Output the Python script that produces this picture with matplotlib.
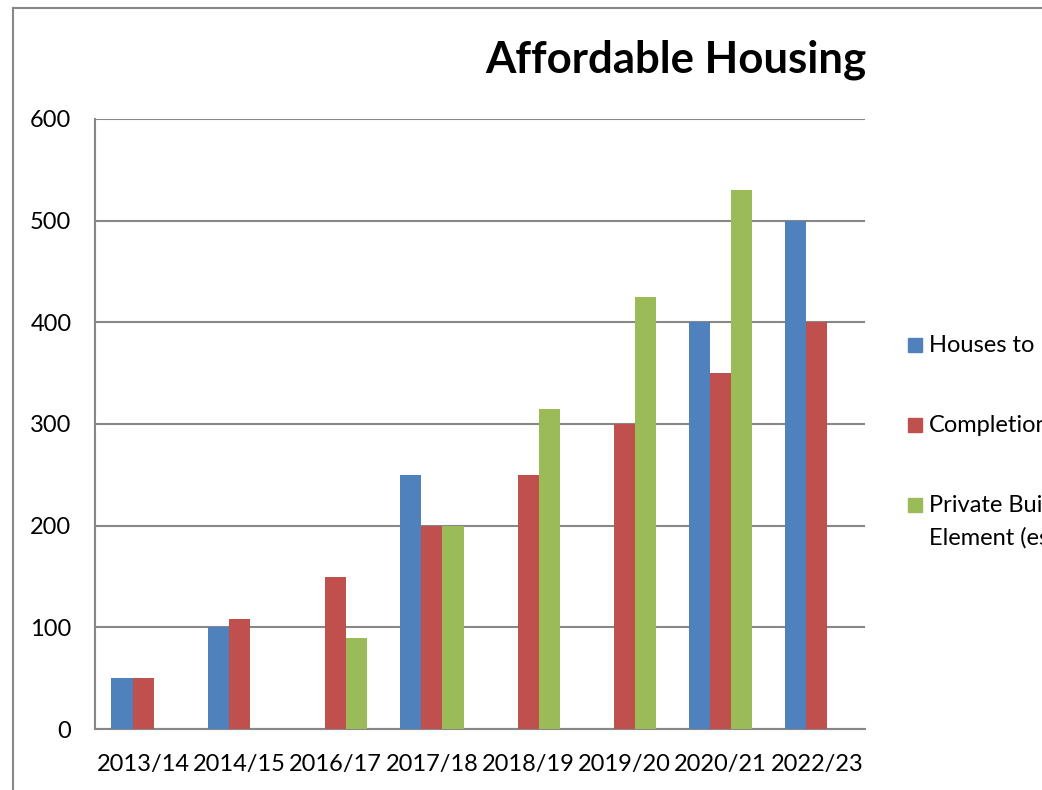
import numpy as np
import matplotlib
matplotlib.use("Agg")
import matplotlib.pyplot as plt
from matplotlib.lines import Line2D
from matplotlib.patches import Rectangle

plt.rcParams['font.family'] = ['Lato', 'DejaVu Sans']

years = ['2013/14', '2014/15', '2016/17', '2017/18', '2018/19', '2019/20', '2020/21', '2022/23']
houses_target = [50, 100, np.nan, 250, np.nan, np.nan, 400, 500]
completions = [50, 108, 150, 200, 250, 300, 350, 400]
private_build = [np.nan, np.nan, 90, 200, 315, 425, 530, np.nan]

labels = ['Houses to be built', 'Completions', 'Private Build\nElement (est.)']
colors = ['#4F81BD', '#C0504D', '#9BBB59']
series = [houses_target, completions, private_build]

fig = plt.figure(figsize=(10.42, 7.90), dpi=100)
ax = fig.add_axes([95 / 1042, 61 / 790, 770 / 1042, 610 / 790])

x = np.arange(len(years))
w = 0.22
for i, (vals, col) in enumerate(zip(series, colors)):
    ax.bar(x + (i - 1) * w, vals, w, color=col, zorder=3)

ax.set_xlim(-0.5, len(years) - 0.5)
ax.set_ylim(0, 600)
ax.set_yticks(range(0, 601, 100))
ax.set_xticks(x)
ax.set_xticklabels(years)
ax.tick_params(length=0, labelsize=17)
ax.tick_params(axis='x', pad=18)
ax.tick_params(axis='y', pad=17)
ax.grid(axis='y', color='#878787', linewidth=1.5, zorder=1)
for s in ['top', 'right']:
    ax.spines[s].set_visible(False)
for s in ['left', 'bottom']:
    ax.spines[s].set_color('#878787')
    ax.spines[s].set_linewidth(1.5)

fig.text(676 / 1042, 1 - 60 / 790, 'Affordable Housing', ha='center', va='center',
         fontsize=31.5, fontweight='bold')

# chart frame
fig.add_artist(Line2D([12.5 / 1042, 12.5 / 1042], [0, 1 - 7.5 / 790], color='#878787',
                      lw=1.5, transform=fig.transFigure))
fig.add_artist(Line2D([12.5 / 1042, 1], [1 - 7.5 / 790, 1 - 7.5 / 790], color='#878787',
                      lw=1.5, transform=fig.transFigure))

# legend (cropped at the right edge, as in the reference)
leg_y = [345, 425, 505]
for lab, col, yy in zip(labels, colors, leg_y):
    fig.add_artist(Rectangle((908 / 1042, 1 - (yy + 7) / 790), 14 / 1042, 14 / 790,
                             color=col, transform=fig.transFigure))
    fig.text(929 / 1042, 1 - (yy - 10) / 790, lab, ha='left', va='top', fontsize=17,
             linespacing=1.65)

fig.savefig('out.png', dpi=100)
